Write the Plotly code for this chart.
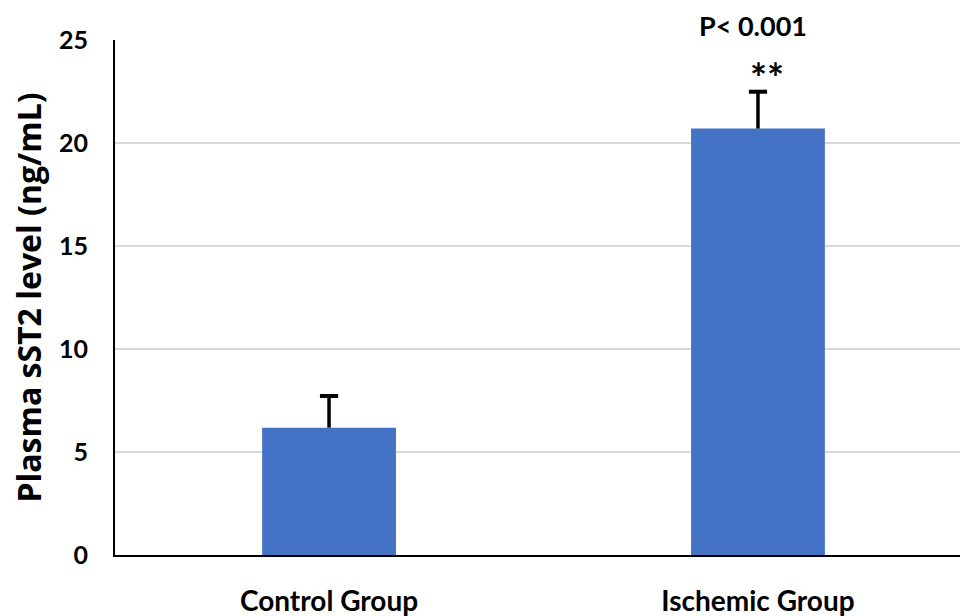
import plotly.graph_objects as go

categories = ["Control Group", "Ischemic Group"]
means = [6.18, 20.7]
errors = [1.54, 1.79]
y_ticks = [0, 5, 10, 15, 20, 25]

FONT = "Lato"
err_tops = [m + e for m, e in zip(means, errors)]

fig = go.Figure()
fig.add_trace(go.Bar(
    x=categories,
    y=means,
    width=0.312,
    marker=dict(color="#4472C4", line=dict(width=0)),
    error_y=dict(type="data", symmetric=False, array=errors,
                 arrayminus=[0] * len(errors),
                 color="black", thickness=3.5, width=0),
))
# top caps of the error bars
fig.add_trace(go.Scatter(
    x=categories, y=err_tops, mode="markers",
    marker=dict(symbol="line-ew", size=13, color="black",
                line=dict(color="black", width=4)),
    hoverinfo="skip",
))

fig.add_annotation(x=1, xref="x", xshift=-5, y=25, yref="y", yshift=15,
                   text="<b>P< 0.001</b>", showarrow=False,
                   font=dict(family=FONT, size=27, color="black"))
fig.add_annotation(x=1, xref="x", xshift=9, y=23.45, yref="y", yshift=-6,
                   text="<b>**</b>", showarrow=False,
                   font=dict(family=FONT, size=40, color="black"))

fig.update_layout(
    width=960, height=616,
    margin=dict(l=115, r=0, t=40, b=61),
    paper_bgcolor="white", plot_bgcolor="white",
    showlegend=False,
    font=dict(family=FONT, color="black"),
)
fig.update_xaxes(
    type="category", range=[-0.499, 1.471], automargin=False,
    showline=True, linecolor="black", linewidth=2,
    showgrid=False, ticks="",
    tickfont=dict(family=FONT, size=28, color="black"),
    ticklabelstandoff=20,
    tickvals=categories,
    ticktext=["<b>%s</b>" % c for c in categories],
)
fig.update_yaxes(
    range=[0, 25], tickvals=y_ticks, automargin=False,
    ticktext=["<b>%d</b>" % v for v in y_ticks],
    showline=True, linecolor="black", linewidth=2,
    showgrid=True, gridcolor="#d9d9d9", gridwidth=1.5,
    zeroline=False, ticks="",
    tickfont=dict(family=FONT, size=25, color="black"),
    ticklabelstandoff=20,
    title=dict(text="<b>Plasma sST2 level (ng/mL)</b>",
               font=dict(family="Open Sans", size=32, color="black"),
               standoff=8),
)

fig.write_html(
    "out.html",
    config={"displayModeBar": False},
    post_script="document.body.style.margin='0';"
                "document.body.style.overflow='hidden';",
)
